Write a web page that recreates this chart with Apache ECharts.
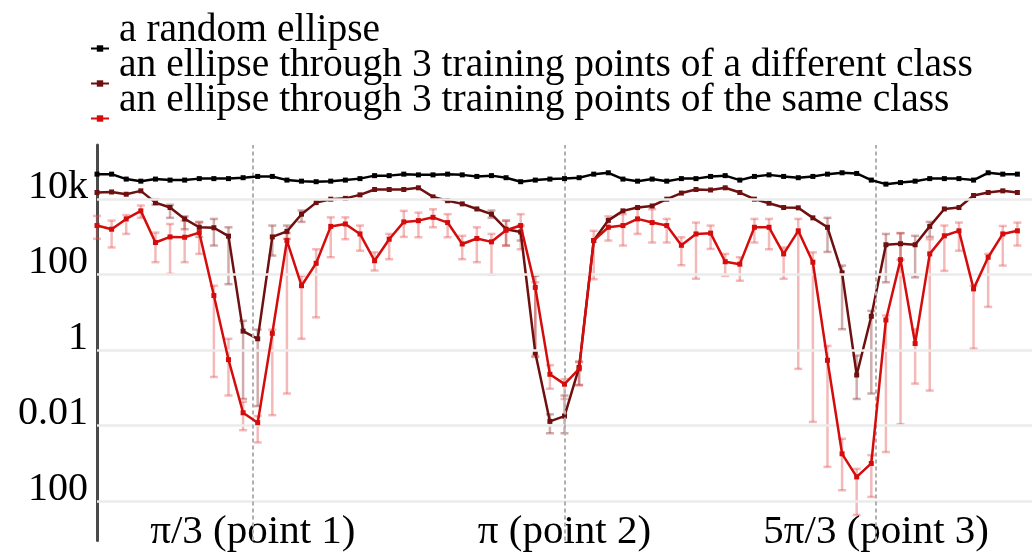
<!DOCTYPE html>
<html><head><meta charset="utf-8">
<script src="https://cdn.jsdelivr.net/npm/echarts@6/dist/echarts.min.js"></script>
<style>html,body{margin:0;padding:0;background:#fff}#c{width:1032px;height:553px}</style>
</head><body><div id="c"></div>
<script>
const seriesNames = [
  'a random ellipse',
  'an ellipse through 3 training points of a different class',
  'an ellipse through 3 training points of the same class'
];
const black = [
  4.6e4, 4.6e4, 3.4e4, 3.0e4, 3.4e4, 3.2e4, 3.2e4, 3.5e4,
  3.5e4, 3.5e4, 3.7e4, 4.0e4, 4.0e4, 3.2e4, 3.0e4, 2.9e4,
  3.0e4, 3.2e4, 3.5e4, 4.2e4, 4.2e4, 4.6e4, 4.4e4, 4.4e4,
  4.6e4, 4.4e4, 4.0e4, 4.2e4, 3.7e4, 2.9e4, 3.2e4, 3.4e4,
  3.5e4, 3.7e4, 4.6e4, 5.0e4, 3.4e4, 3.0e4, 3.4e4, 3.0e4,
  3.5e4, 3.5e4, 4.0e4, 4.2e4, 3.2e4, 4.0e4, 4.4e4, 4.0e4,
  3.7e4, 4.0e4, 4.6e4, 5.0e4, 4.8e4, 3.2e4, 2.5e4, 2.75e4,
  3.0e4, 3.5e4, 3.5e4, 3.5e4, 3.2e4, 5.0e4, 4.6e4, 4.6e4
];
const darkRed = [
  1.5e4, 1.55e4, 1.35e4, 1.66e4, 8.1e3, 6.0e3, 3.0e3, 1.8e3,
  1.75e3, 1.05e3, 3.2, 2.0, 1.0e3, 1.4e3, 4.0e3, 8.1e3,
  1.0e4, 1.05e4, 1.3e4, 1.8e4, 1.8e4, 1.8e4, 2.0e4, 1.15e4,
  9.1e3, 7.5e3, 5.5e3, 4.0e3, 1.6e3, 1.35e3, 0.85, 0.013,
  0.018, 0.35, 800, 2.75e3, 4.9e3, 6.0e3, 6.6e3, 1.0e4,
  1.45e4, 1.8e4, 1.75e4, 2.0e4, 1.5e4, 1.0e4, 7.8e3, 6.0e3,
  5.9e3, 3.2e3, 1.8e3, 112, 0.22, 7.9, 620, 660,
  620, 1.9e3, 5.5e3, 6.0e3, 1.25e4, 1.5e4, 1.66e4, 1.5e4
];
const darkLow = [
  null, null, null, null, 7.1e3, 3.2e3, 1.6e3, 1.0e3,
  590, 56, 0.051, 0.033, 320, 890, 2.5e3, null,
  null, null, null, null, null, null, null, null,
  null, null, null, 3.2e3, 590, 800, 0.66, 6.3e-3,
  6.3e-3, 0.12, null, null, null, null, null, null,
  null, null, null, null, null, null, null, null,
  null, null, 400, 3.6, 0.051, 0.071, 63, 250,
  85, 1.0e3, null, null, null, null, null, null
];
const darkHigh = [
  null, null, null, null, 1.0e4, 7.1e3, 3.5e3, 2.5e3,
  3.0e3, 1.8e3, 6.0, 3.5, 2.0e3, 2.0e3, 5.0e3, null,
  null, null, null, null, null, null, null, null,
  null, null, null, 5.0e3, 2.7e3, 2.0e3, 93, 0.02,
  0.063, 0.5, null, null, null, null, null, null,
  null, null, null, null, null, null, null, null,
  null, null, 3.2e3, 174, 0.72, 11, 1.2e3, 1.26e3,
  1.07e3, 2.5e3, null, null, null, null, null, null
];
const red = [
  2.0e3, 1.6e3, 3.0e3, 4.9e3, 710, 1.0e3, 980, 1.3e3,
  28, 0.56, 0.022, 0.012, 2.8, 800, 51, 200,
  1.9e3, 2.2e3, 1.2e3, 234, 870, 2.5e3, 2.7e3, 3.3e3,
  2.4e3, 650, 910, 740, 1.5e3, 2.0e3, 46, 0.23,
  0.126, 0.32, 800, 1.8e3, 2.0e3, 3.0e3, 2.4e3, 2.0e3,
  600, 1.2e3, 1.26e3, 220, 190, 1.8e3, 1.8e3, 355,
  1.45e3, 214, 0.54, 1.8e-3, 4.4e-4, 1.0e-3, 6.3, 250,
  1.5, 355, 1.07e3, 1.45e3, 42, 290, 1.2e3, 1.45e3
];
const redLow = [
  890, 525, 1.2e3, 3.2e3, 214, 105, 214, 355,
  0.195, 0.063, 7.6e-3, 3.6e-3, 0.019, 0.071, 2.0, 7.4,
  290, 870, 430, 129, 257, 1.0e3, 980, 1.8e3,
  980, 257, 214, 100, 590, 470, 0.71, 0.095,
  0.051, 0.117, 76, 800, 590, 1.2e3, 710, 710,
  178, 78, 480, 93, 69, 710, 470, 78,
  0.32, 0.0126, 8.1e-4, 1.95e-4, 4.3e-5, 1.3e-4, 2.0e-3, 0.011,
  0.13, 0.085, 126, 430, 1.1, 14, 174, 590
];
const redHigh = [
  3.6e3, 2.7e3, 3.8e3, 6.8e3, 1.3e3, 2.2e3, 2.7e3, 2.4e3,
  51, 2.0, 0.043, 0.018, 3.5, 1.26e3, 93, 470,
  3.3e3, 3.3e3, 2.0e3, 390, 1.2e3, 4.9e3, 4.4e3, 5.4e3,
  4.0e3, 1.07e3, 1.8e3, 1.2e3, 2.7e3, 4.0e3, 63, 0.4,
  0.17, 0.48, 1.45e3, 3.5e3, 4.0e3, 6.0e3, 5.4e3, 3.0e3,
  980, 2.4e3, 2.0e3, 355, 290, 3.0e3, 3.0e3, 525,
  3.0e3, 390, 1.3, 4.5e-3, 7.2e-4, 1.66e-3, 8.3, 1.26e3,
  3.6, 870, 2.0e3, 2.4e3, 51, 355, 1.95e3, 2.4e3
];
// sample angles: 64 samples over one turn
const sampleCount = 64;
const angles = Array.from({length: sampleCount}, (_, k) => k * 2 * Math.PI / sampleCount);
const xTickValues = [Math.PI / 3, Math.PI, 5 * Math.PI / 3];
const xTickLabels = ['π/3 (point 1)', 'π (point 2)', '5π/3 (point 3)'];
const yTickValues = [1e4, 1e2, 1, 1e-2, 1e-4];
const yTickLabels = ['10k', '100', '1', '0.01', '100'];

const FONT = 'Liberation Serif';
const pair = (ys) => angles.map((x, i) => [x, ys[i]]);
const errData = (lo, hi) => angles.map((x, i) => [x, lo[i], hi[i]]).filter(d => d[1] != null && d[2] != null);
function errRender(color) {
  return function (params, api) {
    const x = api.value(0);
    const p1 = api.coord([x, api.value(2)]);
    const p2 = api.coord([x, api.value(1)]);
    const w = 4;
    const st = {stroke: color, lineWidth: 2.5};
    return {type: 'group', children: [
      {type: 'line', shape: {x1: p1[0], y1: p1[1], x2: p2[0], y2: p2[1]}, style: st},
      {type: 'line', shape: {x1: p1[0] - w, y1: p1[1], x2: p1[0] + w, y2: p1[1]}, style: st},
      {type: 'line', shape: {x1: p2[0] - w, y1: p2[1], x2: p2[0] + w, y2: p2[1]}, style: st}
    ]};
  };
}

const chart = echarts.init(document.getElementById('c'), null, {renderer: 'canvas'});
const gridLines = yTickValues.map((v, i) => ({
  yAxis: v,
  lineStyle: {color: '#ebebeb', width: 2.5, type: 'solid'},
  label: {show: true, position: 'start', formatter: yTickLabels[i], distance: 9, offset: [0, -12],
          fontFamily: FONT, fontSize: 40, color: '#000'}
}));
const vLines = xTickValues.map(v => ({
  xAxis: v,
  lineStyle: {color: '#b0b0b0', width: 2, type: [4, 3]},
  label: {show: false}
}));

chart.setOption({
  animation: false,
  backgroundColor: '#fff',
  grid: {left: 97, right: -8, top: 145, bottom: 11, containLabel: false},
  legend: {
    data: seriesNames, orient: 'vertical', left: 85, top: 6,
    itemWidth: 18, itemHeight: 8, itemGap: -40, selectedMode: false,
    formatter: (name) => name + '\n ',
    textStyle: {fontFamily: FONT, fontSize: 39.5, color: '#000', lineHeight: 35, padding: [0, 0, 0, 5]}
  },
  xAxis: {
    type: 'value', min: 0, max: 2 * Math.PI,
    axisLine: {show: false}, axisTick: {show: false}, splitLine: {show: false},
    axisLabel: {
      customValues: xTickValues, margin: -28,
      fontFamily: FONT, fontSize: 41, lineHeight: 40, color: '#000',
      formatter: (v) => {
        let best = 0;
        xTickValues.forEach((t, i) => { if (Math.abs(t - v) < Math.abs(xTickValues[best] - v)) best = i; });
        return xTickLabels[best];
      }
    }
  },
  yAxis: {
    type: 'log', logBase: 10, min: 9.1e-6, max: 2.72e5,
    axisLine: {show: true, lineStyle: {color: '#4a4a4a', width: 3}},
    axisTick: {show: false}, axisLabel: {show: false}, splitLine: {show: false}, minorSplitLine: {show: false}
  },
  series: [
    {
      type: 'line', name: 'helper', data: pair(black), silent: true, z: 1,
      symbol: 'none', lineStyle: {opacity: 0}, legendHoverLink: false,
      markLine: {silent: true, symbol: 'none', animation: false, precision: 10, data: gridLines.concat(vLines)}
    },
    {type: 'custom', name: 'darkErr', data: errData(darkLow, darkHigh), renderItem: errRender('rgba(150,70,70,0.45)'), z: 2, silent: true},
    {type: 'custom', name: 'redErr', data: errData(redLow, redHigh), renderItem: errRender('rgba(228,80,80,0.4)'), z: 3, silent: true},
    {type: 'line', name: seriesNames[0], data: pair(black), z: 6, symbol: 'rect', symbolSize: 5, showAllSymbol: true,
     itemStyle: {color: '#000'}, lineStyle: {color: '#000', width: 2.5}},
    {type: 'line', name: seriesNames[1], data: pair(darkRed), z: 4, symbol: 'rect', symbolSize: 5, showAllSymbol: true,
     itemStyle: {color: '#6e1010'}, lineStyle: {color: '#6e1010', width: 2.5}},
    {type: 'line', name: seriesNames[2], data: pair(red), z: 5, symbol: 'rect', symbolSize: 5, showAllSymbol: true,
     itemStyle: {color: '#d40c0c'}, lineStyle: {color: '#d40c0c', width: 2.5}}
  ]
});
</script>
</body></html>
